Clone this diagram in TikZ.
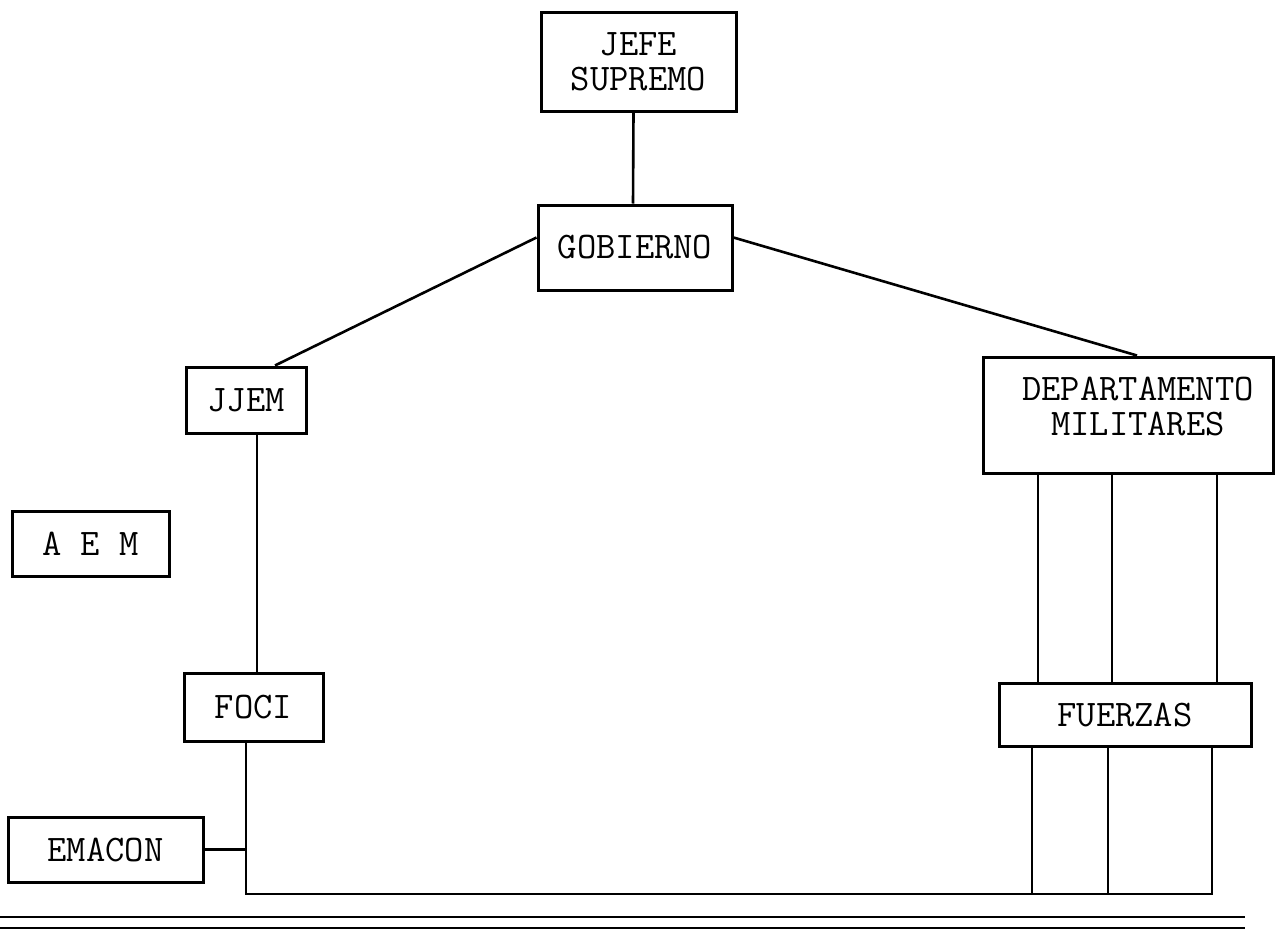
\documentclass[tikz,border=0pt]{standalone}
\begin{document}
\begin{tikzpicture}[x=1pt,y=-1pt,
  box/.style={draw,line width=3pt,inner sep=0pt,align=center,font=\ttfamily\fontsize{37.5}{35}\selectfont},
  lbl/.style={inner sep=0pt,align=center,font=\ttfamily\fontsize{37.5}{35}\selectfont},
  conn/.style={line width=2.6pt}]
\useasboundingbox[fill=white] (0,0) rectangle (1283,937);
\node[box,minimum width=195,minimum height=99] (jefe) at (638.5,61.5) {JEFE\\SUPREMO};
\node[box,minimum width=194,minimum height=85] (gob) at (635,247.5) {GOBIERNO};
\node[box,minimum width=120,minimum height=66] (jjem) at (246,400) {JJEM};
\node[box,minimum width=290,minimum height=116] (dep) at (1128,415) {};
\node[lbl] (dept) at (1138,407) {DEPARTAMENTO\\MILITARES};
\node[box,minimum width=157,minimum height=65] (aem) at (90.5,543.5) {A E M};
\node[box,minimum width=139,minimum height=68] (foci) at (253.5,707) {FOCI};
\node[box,minimum width=252,minimum height=63] (fue) at (1125,714.5) {FUERZAS};
\node[box,minimum width=195,minimum height=65] (emacon) at (105.5,849.5) {EMACON};
% helper coordinates
\coordinate (c1) at (257,0);
\coordinate (c2) at (246,894);
\coordinate (c3) at (1212,894);
\coordinate (d1) at (1038,0);
\coordinate (d2) at (1112,0);
\coordinate (d3) at (1217,0);
\coordinate (e1) at (1032,894);
\coordinate (e2) at (1108,894);
\coordinate (l1a) at (0,917);
\coordinate (l1b) at (1245,917);
\coordinate (l2a) at (0,928);
\coordinate (l2b) at (1245,928);
% connectors
\draw[conn] ([xshift=-5]jefe.south) -- ([xshift=-2]gob.north);
\draw[conn] ([yshift=10]gob.west) -- ([xshift=29]jjem.north);
\draw[conn] ([yshift=10]gob.east) -- ([xshift=9]dep.north);
\draw[conn] (jjem.south -| c1) -- (foci.north -| c1);
\draw[conn] (foci.south -| c2) -- (c2) -- (c3) -- (fue.south -| c3);
\draw[conn] (emacon.east) -- (emacon.east -| c2);
\draw[conn] (dep.south -| d1) -- (fue.north -| d1);
\draw[conn] (dep.south -| d2) -- (fue.north -| d2);
\draw[conn] (dep.south -| d3) -- (fue.north -| d3);
\draw[conn] (fue.south -| e1) -- (e1);
\draw[conn] (fue.south -| e2) -- (e2);
\draw[conn] (l1a) -- (l1b);
\draw[conn] (l2a) -- (l2b);
\end{tikzpicture}
\end{document}
